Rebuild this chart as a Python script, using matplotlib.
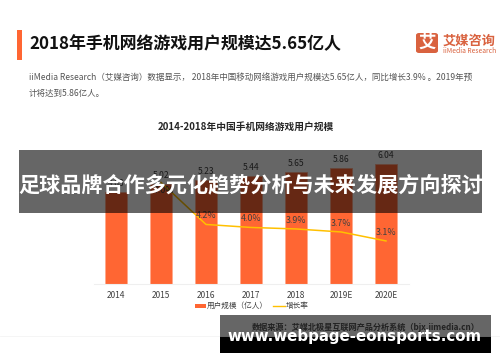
import matplotlib
matplotlib.use('Agg')
import matplotlib.pyplot as plt
from matplotlib.patches import Rectangle, FancyBboxPatch
from matplotlib.lines import Line2D

plt.rcParams['font.family'] = ['Noto Sans CJK SC', 'DejaVu Sans']

years = ['2014', '2015', '2016', '2017', '2018', '2019E', '2020E']
users = [4.63, 5.02, 5.23, 5.44, 5.65, 5.86, 6.04]
growth_years = ['2015', '2016', '2017', '2018', '2019E', '2020E']
growth = [7.0, 4.2, 4.0, 3.9, 3.7, 3.1]
growth_labels = ['7.0%', '4.2%', '4.0%', '3.9%', '3.7%', '3.1%']

title = '2018年手机网络游戏用户规模达5.65亿人'
para1 = 'iiMedia Research（艾媒咨询）数据显示， 2018年中国移动网络游戏用户规模达5.65亿人，同比增长3.9% 。2019年预'
para2 = '计将达到5.86亿人。'
chart_title = '2014-2018年中国手机网络游戏用户规模'
source = '数据来源：艾媒北极星互联网产品分析系统（bjx.iimedia.cn）'
banner = '足球品牌合作多元化趋势分析与未来发展方向探讨'
site = 'www.webpage-eonsports.com'

W, H = 500, 362
ORANGE = '#FF6633'
YELLOW = '#FFC000'
LOGO = '#D9623F'


def fx(x):
    return x / W


def fy(y):
    return 1 - y / H


def put(x, y, s, **kw):
    kw.setdefault('va', 'center')
    return fig.text(fx(x), fy(y), s, **kw)


def box(x0, y0, x1, y1, **kw):
    r = Rectangle((fx(x0), fy(y1)), (x1 - x0) / W, (y1 - y0) / H,
                  transform=fig.transFigure, linewidth=0, **kw)
    fig.add_artist(r)
    return r


fig = plt.figure(figsize=(5, 3.62), dpi=100, facecolor='white')

# plot area in pixels of the reference
ax = fig.add_axes([fx(93.5), fy(284), (408.5 - 93.5) / W, 129 / H])
ax.bar(years, users, width=0.467, color=ORANGE, edgecolor='#FFA98C', linewidth=0.6)
ax.set_xlim(-0.5, 6.5)
ax.set_ylim(0, 6.5)
ax.set_yticks([])
for s in ['top', 'left', 'right']:
    ax.spines[s].set_visible(False)
ax.spines['bottom'].set_color('#EFEFEF')
ax.tick_params(axis='x', length=0, labelsize=6, labelcolor='#404040', pad=5)
for i, v in enumerate(users):
    ax.annotate('%.2f' % v, (i, v), xytext=(0, 3), textcoords='offset points',
                ha='center', va='bottom', fontsize=6.2, color='#404040')

ax2 = ax.twinx()
ax2.set_ylim(0.23, 8.83)
ax2.set_yticks([])
for s in ax2.spines.values():
    s.set_visible(False)
xs = [years.index(y) for y in growth_years]
ax2.plot(xs, growth, color=YELLOW, linewidth=1.1)
for x, v, lab in zip(xs, growth, growth_labels):
    # first label sits under its point, the rest above
    off = -9 if x == 1 else 3
    ax2.annotate(lab, (x, v), xytext=(2 if x == 1 else 0, off), textcoords='offset points',
                 ha='center', va='bottom', fontsize=6.4, color='#404040')

# header
box(17, 30, 22, 60, color=ORANGE)
put(29, 44, title, fontsize=12.2, fontweight='bold', color='#111111')
put(29, 77.5, para1, fontsize=6.15, color='#555555')
put(29, 93.5, para2, fontsize=6.15, color='#555555')
put(246, 127, chart_title, fontsize=7, fontweight='bold', color='#262626', ha='center')

# logo
fig.add_artist(FancyBboxPatch((fx(416), fy(53)), 22 / W, 20 / H, transform=fig.transFigure,
                              boxstyle='round,pad=0,rounding_size=0.006', color=LOGO, linewidth=0))
put(427, 43, '艾', fontsize=12.5, fontweight='bold', color='white', ha='center')
put(443, 41, '艾媒咨询', fontsize=9.5, fontweight='bold', color=LOGO)
put(443, 51, 'iiMedia Research', fontsize=4.9, color=LOGO)

# legend
box(194.5, 304, 206, 308, color=ORANGE)
put(207, 306, '用户规模（亿人）', fontsize=5.5, color='#404040')
fig.add_artist(Line2D([fx(273), fx(285)], [fy(306), fy(306)], color=YELLOW, linewidth=1,
                      transform=fig.transFigure))
put(286, 306, '增长率', fontsize=5.5, color='#404040')

# source line and footer rule
fig.add_artist(Line2D([0, 1], [fy(336), fy(336)], color='#F4F4F4', linewidth=0.6,
                      transform=fig.transFigure))
put(480, 327.5, source, fontsize=5.9, fontweight='bold', color='#555555', ha='right')

# overlays
box(19, 150, 482, 213, color='black', alpha=0.6, zorder=10)
put(250.5, 185, banner, fontsize=15.2, fontweight='bold', color='white', ha='center', zorder=11)
box(220, 315, 491, 337, color='black', alpha=0.6, zorder=10)
box(220, 337, 491, 353, color='black', zorder=10)
put(354.5, 336.5, site, fontsize=10.8, fontweight='bold', color='white', ha='center',
    family='DejaVu Sans', zorder=11)

fig.savefig('out.png', dpi=100)
